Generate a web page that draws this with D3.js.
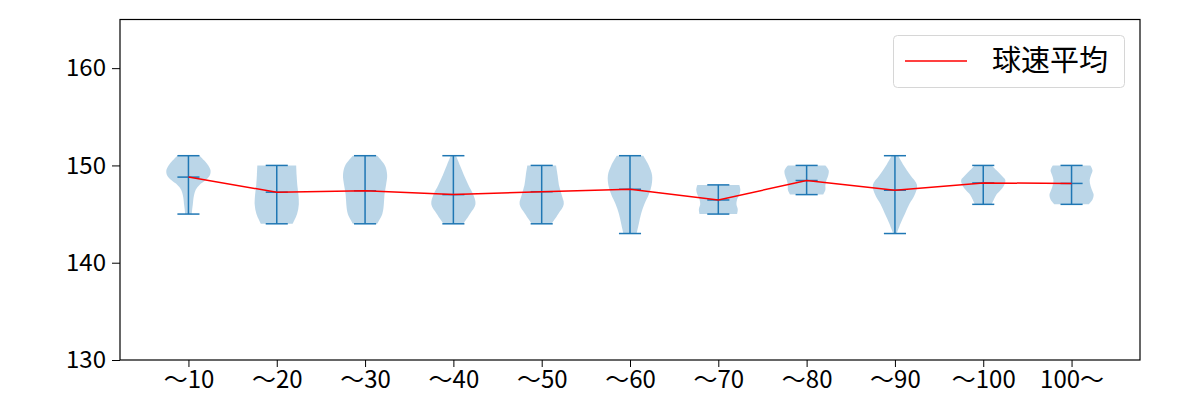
<!DOCTYPE html>
<html><head><meta charset="utf-8">
<script src="https://cdn.jsdelivr.net/npm/d3@7"></script>
<style>body{margin:0;background:#fff}svg{display:block}text{font-family:"Noto Sans CJK JP","Noto Sans",sans-serif;fill:#000}</style>
</head><body><svg id="c" width="1200" height="400"></svg>
<script>
const categories = ["～10","～20","～30","～40","～50","～60","～70","～80","～90","～100","100～"];
const minVals  = [145,144,144,144,144,143,145,147,143,146,146];
const maxVals  = [151,150,151,151,150,151,148,150,151,150,150];
const meanVals = [148.8,147.25,147.4,147.0,147.3,147.55,146.45,148.45,147.45,148.2,148.15];
// relative violin half-widths, sampled evenly from min to max
const violinDensity = [
  [0.15,0.17,0.2,0.22,0.26,0.33,0.5,0.78,0.97,1.0,0.9,0.72,0.5],
  [0.72,0.92,1.0,0.98,0.93,0.9,0.88],
  [0.55,0.78,0.85,0.88,0.95,1.0,0.9,0.55],
  [0.45,0.75,1.0,0.9,0.68,0.48,0.3,0.12],
  [0.45,0.75,1.0,0.9,0.78,0.72,0.65],
  [0.3,0.4,0.5,0.65,0.85,0.98,1.0,0.85,0.6],
  [0.85,0.88,0.82,0.85,0.95,1.0,0.95],
  [0.75,0.85,0.85,0.9,0.98,1.0,0.85],
  [0.08,0.25,0.45,0.65,0.9,1.0,0.7,0.4,0.15],
  [0.38,0.48,0.6,0.8,0.95,1.0,0.82,0.6,0.38],
  [0.78,0.95,1.0,0.92,0.85,0.82,0.88,0.95,0.85]
];
const yTicks = [130,140,150,160];
const legendLabel = "球速平均";

const svg = d3.select("#c");
const L=120, R=1140, T=19.5, B=360;
const x = d3.scaleLinear().domain([0.225, 11.775]).range([L, R]);
const y = d3.scaleLinear().domain([130, 165]).range([B, T]);
const blue = "#1f77b4";
const hw = x(1.25) - x(1);     // half violin width (0.25 units)
const cap = x(1.125) - x(1);

const g = svg.append("g");
categories.forEach((c, i) => {
  const pos = i + 1, cx = x(pos);
  const dens = violinDensity[i], n = dens.length;
  const pts = dens.map((w, k) => ({v: minVals[i] + k*(maxVals[i]-minVals[i])/(n-1), w}));
  const area = d3.area().curve(d3.curveCatmullRom)
    .y(d => y(d.v)).x0(d => cx - d.w*hw).x1(d => cx + d.w*hw);
  g.append("path").attr("d", area(pts)).attr("fill", blue).attr("fill-opacity", 0.3);
  g.append("line").attr("x1", cx).attr("x2", cx).attr("y1", y(minVals[i])).attr("y2", y(maxVals[i]))
    .attr("stroke", blue).attr("stroke-width", 1.5);
  [minVals[i], maxVals[i], meanVals[i]].forEach(v => {
    g.append("line").attr("x1", cx - cap).attr("x2", cx + cap).attr("y1", y(v)).attr("y2", y(v))
      .attr("stroke", blue).attr("stroke-width", 1.5);
  });
});

const line = d3.line().x((d, i) => x(i + 1)).y(d => y(d));
svg.append("path").attr("d", line(meanVals)).attr("fill", "none").attr("stroke", "red").attr("stroke-width", 1.5);

// axes
const xAxis = d3.axisBottom(x).tickValues(d3.range(1, 12)).tickFormat((d) => categories[d-1]).tickSize(7).tickPadding(4);
const gx = svg.append("g").attr("transform", `translate(0,${B})`).call(xAxis);
const yAxis = d3.axisLeft(y).tickValues(yTicks).tickSize(8).tickPadding(6);
const gy = svg.append("g").attr("transform", `translate(${L},0)`).call(yAxis);
[gx, gy].forEach(a => {
  a.select(".domain").remove();
  a.selectAll("line").attr("stroke", "#000").attr("stroke-width", 1);
  a.selectAll("text").attr("font-size", 24).attr("font-family", '"Noto Sans CJK JP", sans-serif').attr("fill", "#000");
});
svg.append("rect").attr("x", L).attr("y", T).attr("width", R - L).attr("height", B - T)
  .attr("fill", "none").attr("stroke", "#000").attr("stroke-width", 1.2);

// legend
const lg = svg.append("g");
lg.append("rect").attr("x", 893.5).attr("y", 35.5).attr("width", 231).attr("height", 52).attr("rx", 4)
  .attr("fill", "#fff").attr("fill-opacity", 0.8).attr("stroke", "#d6d6d6");
lg.append("line").attr("x1", 905).attr("x2", 967).attr("y1", 61).attr("y2", 61).attr("stroke", "red").attr("stroke-width", 1.5);
lg.append("text").attr("x", 992).attr("y", 71).attr("font-size", 29).text(legendLabel);
</script></body></html>
